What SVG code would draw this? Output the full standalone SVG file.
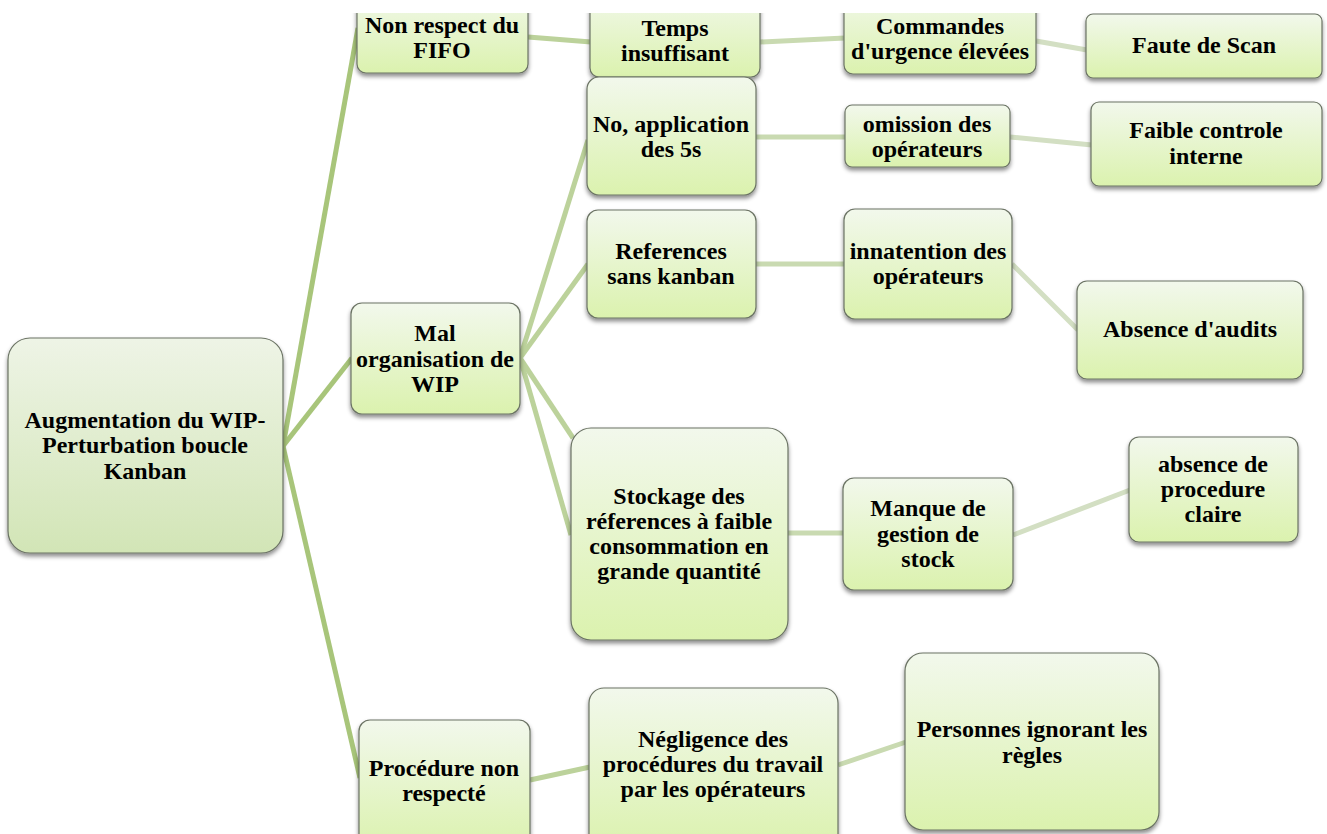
<svg xmlns="http://www.w3.org/2000/svg" width="1327" height="834" viewBox="0 0 1327 834">
<style>
.n{stroke:#6b7364;stroke-width:1.2;filter:url(#sh)}
.g{fill:url(#gy)}
.r{fill:url(#gr)}
text{font-family:'Liberation Serif','Times New Roman',serif;font-weight:700;font-size:24px;fill:#000;text-anchor:middle}
.c1{stroke:#a8c57a;stroke-width:5;fill:none}
.c2{stroke:#bcd29b;stroke-width:5;fill:none}
.c3{stroke:#c9dab1;stroke-width:5;fill:none}
.c4{stroke:#d3dfc3;stroke-width:5;fill:none}
</style>
<defs>
<linearGradient id="gy" x1="0" y1="0" x2="0" y2="1"><stop offset="0" stop-color="#f2f8ec"/><stop offset="1" stop-color="#dbf2ae"/></linearGradient>
<linearGradient id="gr" x1="0" y1="0" x2="0" y2="1"><stop offset="0" stop-color="#eef4e6"/><stop offset="1" stop-color="#d2e5b6"/></linearGradient>
<filter id="sh" x="-10%" y="-10%" width="120%" height="125%"><feDropShadow dx="0" dy="3" stdDeviation="2.2" flood-color="#000" flood-opacity="0.45"/></filter>
<clipPath id="cp"><rect x="0" y="13" width="1327" height="821"/></clipPath>
</defs>
<rect width="1327" height="834" fill="#fff"/>
<g clip-path="url(#cp)">
<g id="connectors">
<line class="c1" x1="283" y1="446" x2="358" y2="28"/>
<line class="c1" x1="283" y1="446" x2="352" y2="358"/>
<line class="c1" x1="283" y1="446" x2="360" y2="778"/>
<line class="c2" x1="528" y1="37" x2="591" y2="42"/>
<line class="c2" x1="520" y1="358" x2="588" y2="140"/>
<line class="c2" x1="520" y1="358" x2="588" y2="264"/>
<line class="c2" x1="520" y1="358" x2="573" y2="438"/>
<line class="c2" x1="520" y1="358" x2="571" y2="535"/>
<line class="c2" x1="530" y1="780" x2="590" y2="767"/>
<line class="c3" x1="760" y1="42" x2="845" y2="38"/>
<line class="c3" x1="756" y1="137" x2="846" y2="137"/>
<line class="c3" x1="756" y1="264" x2="845" y2="264"/>
<line class="c3" x1="788" y1="533" x2="844" y2="533"/>
<line class="c3" x1="838" y1="765" x2="906" y2="742"/>
<line class="c4" x1="1036" y1="41" x2="1087" y2="50"/>
<line class="c4" x1="1010" y1="137" x2="1092" y2="145"/>
<line class="c4" x1="1012" y1="264" x2="1078" y2="330"/>
<line class="c4" x1="1013" y1="535" x2="1130" y2="490"/>
</g>
<g id="n-root"><rect class="n r" x="8" y="338" width="275" height="215" rx="22"/><text x="145" y="428">Augmentation du WIP-</text><text x="145" y="453">Perturbation boucle</text><text x="145" y="479">Kanban</text></g>
<g id="n-fifo"><rect class="n g" x="357" y="-10" width="171" height="83" rx="9"/><text x="442" y="33">Non respect du</text><text x="442" y="58">FIFO</text></g>
<g id="n-mal"><rect class="n g" x="351" y="303" width="169" height="111" rx="11"/><text x="435" y="341">Mal</text><text x="435" y="367">organisation de</text><text x="435" y="392">WIP</text></g>
<g id="n-proc"><rect class="n g" x="359" y="720" width="171" height="130" rx="11"/><text x="444" y="776">Procédure non</text><text x="444" y="801">respecté</text></g>
<g id="n-temps"><rect class="n g" x="590" y="-10" width="170" height="87" rx="9"/><text x="675" y="36">Temps</text><text x="675" y="61">insuffisant</text></g>
<g id="n-5s"><rect class="n g" x="587" y="77" width="169" height="118" rx="12"/><text x="671" y="132">No, application</text><text x="671" y="157">des 5s</text></g>
<g id="n-refs"><rect class="n g" x="587" y="210" width="169" height="108" rx="11"/><text x="671" y="259">References</text><text x="671" y="284">sans kanban</text></g>
<g id="n-stock"><rect class="n g" x="571" y="428" width="217" height="212" rx="20"/><text x="679" y="504">Stockage des</text><text x="679" y="529">réferences à faible</text><text x="679" y="554">consommation en</text><text x="679" y="579">grande quantité</text></g>
<g id="n-neg"><rect class="n g" x="589" y="688" width="249" height="162" rx="15"/><text x="713" y="747">Négligence des</text><text x="713" y="772">procédures du travail</text><text x="713" y="797">par les opérateurs</text></g>
<g id="n-cmd"><rect class="n g" x="844" y="-10" width="192" height="84" rx="9"/><text x="940" y="34">Commandes</text><text x="940" y="59">d'urgence élevées</text></g>
<g id="n-omis"><rect class="n g" x="845" y="105" width="165" height="62" rx="7"/><text x="927" y="132">omission des</text><text x="927" y="157">opérateurs</text></g>
<g id="n-innat"><rect class="n g" x="844" y="209" width="168" height="110" rx="11"/><text x="928" y="259">innatention des</text><text x="928" y="284">opérateurs</text></g>
<g id="n-manque"><rect class="n g" x="843" y="478" width="170" height="112" rx="11"/><text x="928" y="516">Manque de</text><text x="928" y="542">gestion de</text><text x="928" y="567">stock</text></g>
<g id="n-pers"><rect class="n g" x="905" y="653" width="254" height="177" rx="18"/><text x="1032" y="737">Personnes ignorant les</text><text x="1032" y="763">règles</text></g>
<g id="n-faute"><rect class="n g" x="1086" y="14" width="236" height="64" rx="7"/><text x="1204" y="53">Faute de Scan</text></g>
<g id="n-faible"><rect class="n g" x="1091" y="102" width="231" height="84" rx="8"/><text x="1206" y="138">Faible controle</text><text x="1206" y="164">interne</text></g>
<g id="n-audits"><rect class="n g" x="1077" y="281" width="226" height="98" rx="10"/><text x="1190" y="337">Absence d'audits</text></g>
<g id="n-proc2"><rect class="n g" x="1129" y="437" width="169" height="105" rx="10"/><text x="1213" y="472">absence de</text><text x="1213" y="497">procedure</text><text x="1213" y="522">claire</text></g>
</g>
</svg>
